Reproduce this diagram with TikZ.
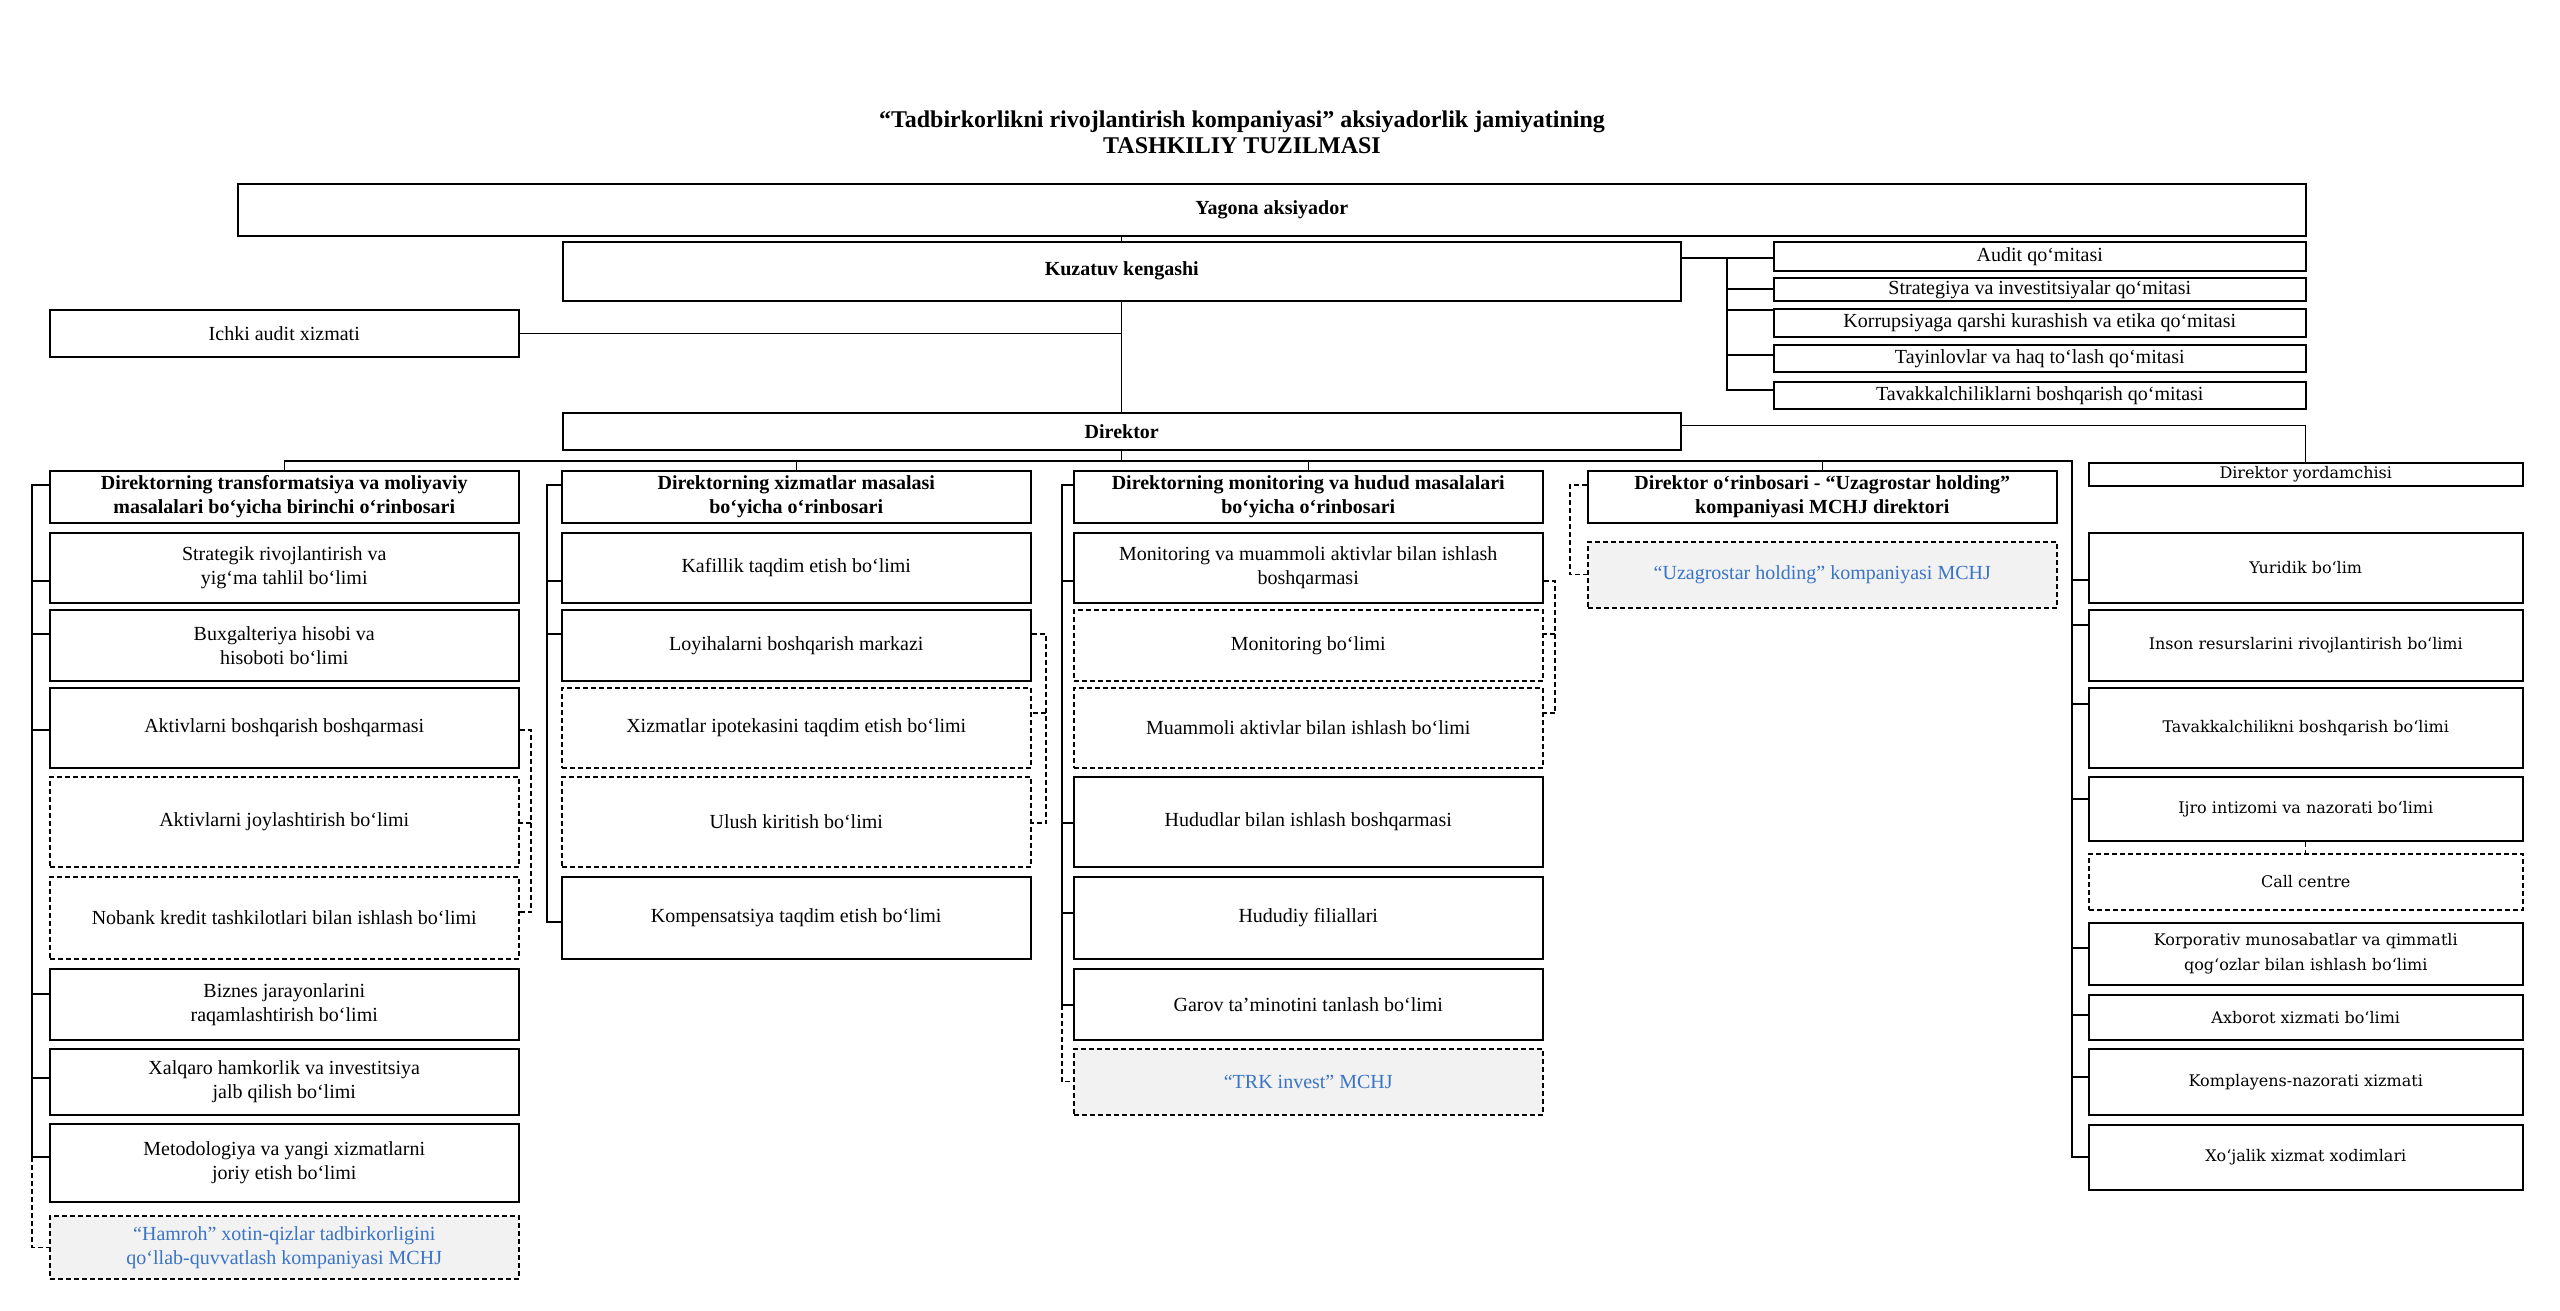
\documentclass[tikz,border=0pt]{standalone}
\usepackage{fontspec}
\setmainfont{Liberation Serif}
\newfontfamily\aidefont{DejaVu Serif}
\definecolor{firmgray}{RGB}{242,242,242}
\definecolor{firmblue}{RGB}{58,116,198}

\begin{document}
\begin{tikzpicture}[
    x=1pt, y=-1pt,
    unit/.style={rectangle, draw, line width=1.5pt, anchor=north west, align=center, inner sep=1pt, font=\fontsize{20}{24}\selectfont},
    head/.style={unit, font=\fontsize{20}{24}\selectfont\bfseries},
    subunit/.style={unit, dash pattern=on 5pt off 3pt},
    firm/.style={subunit, fill=firmgray, text=firmblue},
    aide/.style={unit, minimum width=434pt, font=\fontsize{16}{25}\selectfont\aidefont},
    comm/.style={unit, minimum width=532pt},
    colw/.style={minimum width=469pt},
    link/.style={line width=1.4pt},
    dlink/.style={line width=1.3pt, dash pattern=on 5pt off 3pt}
]
\useasboundingbox (0,0) rectangle (2560,1310);

% Title
\node[font=\fontsize{24}{26}\selectfont\bfseries, align=center] (title) at (1242,132)
    {“Tadbirkorlikni rivojlantirish kompaniyasi” aksiyadorlik jamiyatining\\TASHKILIY TUZILMASI};

% Top management
\node[head, minimum width=2068pt, minimum height=52pt] (yagona) at (237,183) {Yagona aksiyador};
\node[head, minimum width=1118pt, minimum height=59pt] (kuzatuv) at (562,241) {Kuzatuv kengashi};
\node[unit, colw, minimum height=47pt] (ichki) at (49,309) {Ichki audit xizmati};
\node[head, minimum width=1118pt, minimum height=37pt] (direktor) at (562,412) {Direktor};

% Committees
\node[comm, minimum height=29pt] (audit) at (1773,241) {Audit qo‘mitasi};
\node[comm, minimum height=23pt] (strat) at (1773,277) {Strategiya va investitsiyalar qo‘mitasi};
\node[comm, minimum height=28pt] (korr) at (1773,308) {Korrupsiyaga qarshi kurashish va etika qo‘mitasi};
\node[comm, minimum height=27pt] (tayin) at (1773,344) {Tayinlovlar va haq to‘lash qo‘mitasi};
\node[comm, minimum height=27pt] (tavak) at (1773,381) {Tavakkalchiliklarni boshqarish qo‘mitasi};

% Column A: first deputy
\node[head, colw, minimum height=52pt] (headA) at (49,470) {Direktorning transformatsiya va moliyaviy\\masalalari bo‘yicha birinchi o‘rinbosari};
\node[unit, colw, minimum height=70pt] (a1) at (49,532) {Strategik rivojlantirish va\\yig‘ma tahlil bo‘limi};
\node[unit, colw, minimum height=71pt] (a2) at (49,609) {Buxgalteriya hisobi va\\hisoboti bo‘limi};
\node[unit, colw, minimum height=80pt] (a3) at (49,687) {Aktivlarni boshqarish boshqarmasi};
\node[subunit, colw, minimum height=90pt] (a4) at (49,776) {Aktivlarni joylashtirish bo‘limi};
\node[subunit, colw, minimum height=82pt] (a5) at (49,876) {Nobank kredit tashkilotlari bilan ishlash bo‘limi};
\node[unit, colw, minimum height=71pt] (a6) at (49,968) {Biznes jarayonlarini\\raqamlashtirish bo‘limi};
\node[unit, colw, minimum height=66pt] (a7) at (49,1048) {Xalqaro hamkorlik va investitsiya\\jalb qilish bo‘limi};
\node[unit, colw, minimum height=78pt] (a8) at (49,1123) {Metodologiya va yangi xizmatlarni\\joriy etish bo‘limi};
\node[firm, colw, minimum height=63pt] (a9) at (49,1215) {“Hamroh” xotin-qizlar tadbirkorligini\\qo‘llab-quvvatlash kompaniyasi MCHJ};

% Column B: services
\node[head, colw, minimum height=52pt] (headB) at (561,470) {Direktorning xizmatlar masalasi\\bo‘yicha o‘rinbosari};
\node[unit, colw, minimum height=70pt] (b1) at (561,532) {Kafillik taqdim etish bo‘limi};
\node[unit, colw, minimum height=71pt] (b2) at (561,609) {Loyihalarni boshqarish markazi};
\node[subunit, colw, minimum height=80pt] (b3) at (561,687) {Xizmatlar ipotekasini taqdim etish bo‘limi};
\node[subunit, colw, minimum height=90pt] (b4) at (561,776) {Ulush kiritish bo‘limi};
\node[unit, colw, minimum height=82pt] (b5) at (561,876) {Kompensatsiya taqdim etish bo‘limi};

% Column C: monitoring and regions
\node[head, colw, minimum height=52pt] (headC) at (1073,470) {Direktorning monitoring va hudud masalalari\\bo‘yicha o‘rinbosari};
\node[unit, colw, minimum height=70pt] (c1) at (1073,532) {Monitoring va muammoli aktivlar bilan ishlash\\boshqarmasi};
\node[subunit, colw, minimum height=71pt] (c2) at (1073,609) {Monitoring bo‘limi};
\node[subunit, colw, minimum height=80pt] (c3) at (1073,687) {Muammoli aktivlar bilan ishlash bo‘limi};
\node[unit, colw, minimum height=90pt] (c4) at (1073,776) {Hududlar bilan ishlash boshqarmasi};
\node[unit, colw, minimum height=82pt] (c5) at (1073,876) {Hududiy filiallari};
\node[unit, colw, minimum height=71pt] (c6) at (1073,968) {Garov ta’minotini tanlash bo‘limi};
\node[firm, colw, minimum height=66pt] (c7) at (1073,1048) {“TRK invest” MCHJ};

% Column D: Uzagrostar
\node[head, colw, minimum height=52pt] (headD) at (1587,470) {Direktor o‘rinbosari - “Uzagrostar holding”\\kompaniyasi MCHJ direktori};
\node[firm, colw, minimum height=66pt] (d1) at (1587,541) {“Uzagrostar holding” kompaniyasi MCHJ};

% Column E: assistant and staff units
\node[aide, minimum height=23pt] (aideE) at (2088,462) {Direktor yordamchisi};
\node[aide, minimum height=70pt] (e1) at (2088,532) {Yuridik bo‘lim};
\node[aide, minimum height=71pt] (e2) at (2088,609) {Inson resurslarini rivojlantirish bo‘limi};
\node[aide, minimum height=80pt] (e3) at (2088,687) {Tavakkalchilikni boshqarish bo‘limi};
\node[aide, minimum height=64pt] (e4) at (2088,776) {Ijro intizomi va nazorati bo‘limi};
\node[aide, dash pattern=on 5pt off 3pt, minimum height=56pt] (e5) at (2088,853) {Call centre};
\node[aide, minimum height=62pt] (e6) at (2088,922) {Korporativ munosabatlar va qimmatli\\qog‘ozlar bilan ishlash bo‘limi};
\node[aide, minimum height=45pt] (e7) at (2088,994) {Axborot xizmati bo‘limi};
\node[aide, minimum height=66pt] (e8) at (2088,1048) {Komplayens-nazorati xizmati};
\node[aide, minimum height=65pt] (e9) at (2088,1124) {Xo‘jalik xizmat xodimlari};

% Trunk
\draw[link] (kuzatuv.north |- yagona.south) -- (kuzatuv.north);
\draw[link] (kuzatuv.south) -- (direktor.north);
\draw[link] (ichki.east) -- (ichki.east -| kuzatuv.south);

% Committee bus
\coordinate (kbus) at (1727,258);
\draw[link] (audit.west |- kbus) -- (kuzatuv.east |- kbus);
\draw[link] (kbus) -- (1727,390) -- (tavak.west |- 0,390);
\foreach \n/\y in {strat/289, korr/310, tayin/355}
    \draw[link] (1727,\y) -- (\n.west |- 0,\y);

% Director bus
\coordinate (busE) at (2072,461);
\draw[link] (direktor.south) -- (direktor.south |- busE);
\draw[link] (headA.north) |- (busE) -- (busE |- 0,1157) -- (e9.west |- 0,1157);
\foreach \n in {headB, headC, headD}
    \draw[link] (\n.north) -- (\n.north |- busE);
\draw[link] ([yshift=6pt]direktor.east) -| (aideE.north);
\foreach \n/\y in {e1/580, e2/625, e3/704, e4/799, e6/948, e7/1015, e8/1077}
    \draw[link] (busE |- 0,\y) -- (\n.west |- 0,\y);
\draw[dlink] (e4.south) -- (e5.north);

% Column A links
\draw[link] (headA.west |- 0,485) -- (32,485) -- (32,1157) -- (a8.west |- 0,1157);
\foreach \n/\y in {a1/581, a2/634, a3/730, a6/994, a7/1078}
    \draw[link] (32,\y) -- (\n.west |- 0,\y);
\draw[dlink] (32,1157) |- (a9.west);
\draw[dlink] (a3.east |- 0,730) -- (531,730) -- (531,912) -- (a5.east |- 0,912);
\draw[dlink] (531,823) -- (a4.east |- 0,823);

% Column B links
\draw[link] (headB.west |- 0,485) -- (547,485) -- (547,922) -- (b5.west |- 0,922);
\foreach \n/\y in {b1/581, b2/634}
    \draw[link] (547,\y) -- (\n.west |- 0,\y);
\draw[dlink] (b2.east |- 0,634) -- (1046,634) -- (1046,823) -- (b4.east |- 0,823);
\draw[dlink] (1046,713) -- (b3.east |- 0,713);

% Column C links
\draw[link] (headC.west |- 0,485) -- (1062,485) -- (1062,1005) -- (c6.west |- 0,1005);
\foreach \n/\y in {c1/581, c4/823, c5/913}
    \draw[link] (1062,\y) -- (\n.west |- 0,\y);
\draw[dlink] (1062,1005) |- (c7.west);
\draw[dlink] (c1.east |- 0,581) -- (1555,581) -- (1555,713) -- (c3.east |- 0,713);
\draw[dlink] (1555,634) -- (c2.east |- 0,634);

% Column D links
\draw[dlink] (headD.west |- 0,485) -- (1570,485) |- (d1.west);

\end{tikzpicture}
\end{document}
